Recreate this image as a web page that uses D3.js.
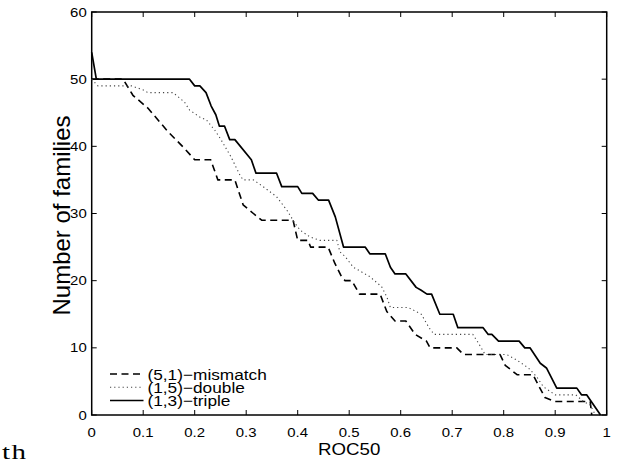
<!DOCTYPE html>
<html><head><meta charset="utf-8">
<script src="https://cdn.jsdelivr.net/npm/d3@7"></script>
<style>body{margin:0;background:#fff}svg{display:block}text{font-family:"Liberation Sans",Arial,sans-serif;fill:#000}</style>
</head><body><svg id="c" width="618" height="463"></svg>
<script>
const xTicks = [0,0.1,0.2,0.3,0.4,0.5,0.6,0.7,0.8,0.9,1];
const xTickLabels = ["0","0.1","0.2","0.3","0.4","0.5","0.6","0.7","0.8","0.9","1"];
const yTicks = [0,10,20,30,40,50,60];
const yTickLabels = ["0","10","20","30","40","50","60"];
const seriesNames = ["(5,1)\u2212mismatch","(1,5)\u2212double","(1,3)\u2212triple"];
const mismatch = [[0,50],[0.061,50],[0.08,47.6],[0.109,45.7],[0.148,42.2],[0.18,39.7],[0.2,38],[0.231,38],[0.245,35],[0.278,35],[0.294,31.3],[0.314,30],[0.33,29],[0.391,29],[0.4,26],[0.42,26],[0.425,25],[0.459,25],[0.472,22.6],[0.485,20.6],[0.492,20],[0.505,20],[0.52,18],[0.56,18],[0.573,15.4],[0.589,14],[0.61,14],[0.628,12],[0.65,11],[0.657,10],[0.709,10],[0.722,9],[0.793,9],[0.803,7.4],[0.826,6],[0.857,6],[0.867,4.5],[0.88,2.6],[0.9,2],[0.968,2],[0.971,0]];
const double_ = [[0,50],[0.012,49],[0.077,49],[0.1,48.4],[0.109,48],[0.158,48],[0.18,46.6],[0.19,45.4],[0.213,44.2],[0.222,44],[0.239,42.4],[0.251,41],[0.27,38.5],[0.288,35.7],[0.294,35],[0.314,35],[0.333,34],[0.359,32.5],[0.379,30.5],[0.395,28.5],[0.405,27.5],[0.424,26.5],[0.443,26],[0.476,26],[0.482,24.3],[0.492,23.6],[0.508,22],[0.54,20.6],[0.563,19.1],[0.573,17.6],[0.58,16],[0.615,16],[0.64,15],[0.655,13],[0.665,12],[0.74,12],[0.751,10.7],[0.764,9],[0.806,9],[0.825,8.2],[0.848,7],[0.864,5.7],[0.877,4.2],[0.9,3],[0.94,3],[0.955,2],[0.968,1.5],[0.978,0]];
const triple = [[0,54],[0.009,50],[0.19,50],[0.2,49],[0.21,49],[0.222,48],[0.232,46],[0.241,44.7],[0.248,43],[0.258,43],[0.268,41],[0.278,41],[0.31,38],[0.319,36],[0.359,36],[0.369,34],[0.4,34],[0.408,33],[0.429,33],[0.44,32],[0.46,32],[0.473,29.5],[0.489,25],[0.531,25],[0.54,24],[0.57,24],[0.58,22],[0.589,21],[0.61,21],[0.63,19],[0.639,18.6],[0.651,18],[0.66,18],[0.676,15],[0.702,15],[0.711,13],[0.76,13],[0.77,12],[0.777,12],[0.79,11],[0.83,11],[0.841,10],[0.851,10],[0.871,7.7],[0.883,7],[0.903,4],[0.942,4],[0.951,3],[0.961,3],[0.988,0]];

const svg = d3.select("#c");
const L=91.7, R=606.7, T=12, B=415;
const x = d3.scaleLinear().domain([0,1]).range([L,R]);
const y = d3.scaleLinear().domain([0,60]).range([B,T]);

// frame
svg.append("rect").attr("x",L).attr("y",T).attr("width",R-L).attr("height",B-T)
  .attr("fill","none").attr("stroke","#000").attr("stroke-width",1.5);

// ticks (inward, all sides)
const tk = 5;
const g = svg.append("g").attr("stroke","#000").attr("stroke-width",1);
xTicks.forEach(v=>{
  g.append("line").attr("x1",x(v)).attr("x2",x(v)).attr("y1",B).attr("y2",B-tk);
  g.append("line").attr("x1",x(v)).attr("x2",x(v)).attr("y1",T).attr("y2",T+tk);
});
yTicks.forEach(v=>{
  g.append("line").attr("y1",y(v)).attr("y2",y(v)).attr("x1",L).attr("x2",L+tk);
  g.append("line").attr("y1",y(v)).attr("y2",y(v)).attr("x1",R).attr("x2",R-tk);
});

function txt(px,py,s,size,anchor,opt){
  opt = opt||{};
  const sxl = opt.sx==null?1.15:opt.sx;
  const tr = `translate(${px},${py})` + (opt.rot?` rotate(${opt.rot})`:"") + ` scale(${sxl},1)`;
  const t = svg.append("g").attr("transform",tr).append("text")
    .attr("font-size",size).attr("text-anchor",anchor).text(s);
  if(opt.fam) t.style("font-family",opt.fam);
  if(opt.ls) t.attr("letter-spacing",opt.ls);
  return t;
}
xTicks.forEach((v,i)=>txt(x(v),436.5,xTickLabels[i],13,"middle"));
yTicks.forEach((v,i)=>txt(L-5,y(v)+4.5,yTickLabels[i],13,"end"));

txt((L+R)/2,455,"ROC50",17,"middle",{sx:1.1});
txt(70,215.5,"Number of families",24,"middle",{rot:-90,sx:1});
txt(2,459,"th",20,"start",{fam:"'Liberation Serif',serif",sx:1.45,ls:1});

// lines
const line = d3.line().x(d=>x(d[0])).y(d=>y(d[1]));
const styles = [
  {data:mismatch, dash:"7,4.5", w:1.6, c:"#000"},
  {data:double_, dash:"1.2,3", w:1.1, c:"#444"},
  {data:triple, dash:null, w:1.7, c:"#000"}
];
styles.forEach(s=>{
  svg.append("path").attr("d",line(s.data)).attr("fill","none").attr("stroke",s.c)
    .attr("stroke-width",s.w).attr("stroke-dasharray",s.dash).attr("stroke-linejoin","round");
});

// legend
const ly = [374,387.3,400.5];
styles.forEach((s,i)=>{
  svg.append("line").attr("x1",110).attr("x2",143.5).attr("y1",ly[i]).attr("y2",ly[i])
    .attr("stroke",s.c).attr("stroke-width",s.w).attr("stroke-dasharray",s.dash);
  txt(147.5,ly[i]+5.5,seriesNames[i],15,"start");
});
</script></body></html>
